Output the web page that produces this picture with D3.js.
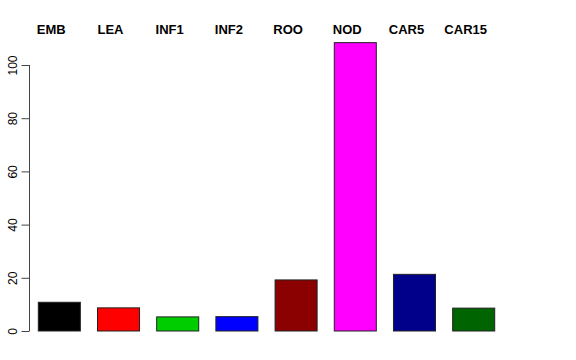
<!DOCTYPE html>
<html>
<head>
<meta charset="utf-8">
<script src="https://cdn.jsdelivr.net/npm/d3@7"></script>
<style>
  body { margin: 0; background: #fff; }
  svg { display: block; font-family: "Liberation Sans", Arial, Helvetica, sans-serif; }
</style>
</head>
<body>
<div id="chart"></div>
<script>
// bar data
const categories = ["EMB", "LEA", "INF1", "INF2", "ROO", "NOD", "CAR5", "CAR15"];
const values = [10.8, 8.7, 5.3, 5.4, 19.2, 108.4, 21.3, 8.6];
const barColours = ["#000000", "#ff0000", "#00cd00", "#0000ff", "#8b0000", "#ff00ff", "#00008b", "#006400"];
const yTicks = [0, 20, 40, 60, 80, 100];

const width = 576, height = 360;

const svg = d3.select("#chart")
  .append("svg")
    .attr("width", width)
    .attr("height", height);

// scales
const x = d3.scaleBand()
  .domain(categories)
  .range([38.3, 494.7])
  .paddingInner(0.29)
  .paddingOuter(0);

const y = d3.scaleLinear()
  .domain([0, 100])
  .range([331, 65]);

// bars
svg.selectAll(".bar")
  .data(categories)
  .enter().append("rect")
    .attr("class", "bar")
    .attr("x", d => x(d))
    .attr("y", (d, i) => y(values[i]))
    .attr("width", x.bandwidth())
    .attr("height", (d, i) => y(0) - y(values[i]))
    .attr("fill", (d, i) => barColours[i])
    .attr("stroke", "#222")
    .attr("stroke-width", 1);

// y axis, R style
const yAxis = d3.axisLeft(y)
  .tickValues(yTicks)
  .tickSize(8)
  .tickPadding(0)
  .tickFormat(d3.format("d"));

const gy = svg.append("g")
  .attr("transform", "translate(29.5,0)")
  .call(yAxis);

gy.select(".domain").attr("stroke", "#444").attr("d", `M0,${y(0)}V${y(100)}`);
gy.selectAll(".tick line").attr("stroke", "#444");
gy.selectAll(".tick text")
  .attr("x", 0)
  .attr("y", 0)
  .attr("dy", 0)
  .attr("transform", "translate(-12.5,0) rotate(-90)")
  .attr("text-anchor", "middle")
  .attr("font-size", 12)
  .attr("font-family", "Liberation Sans, Arial, sans-serif")
  .attr("fill", "#000");

// category labels along the top
svg.selectAll(".lab")
  .data(categories)
  .enter().append("text")
    .attr("class", "lab")
    .attr("x", d => x(d) + x.bandwidth() / 2 - 8)
    .attr("y", 34)
    .attr("text-anchor", "middle")
    .attr("font-weight", "bold")
    .attr("font-size", 13)
    .text(d => d);
</script>
</body>
</html>
